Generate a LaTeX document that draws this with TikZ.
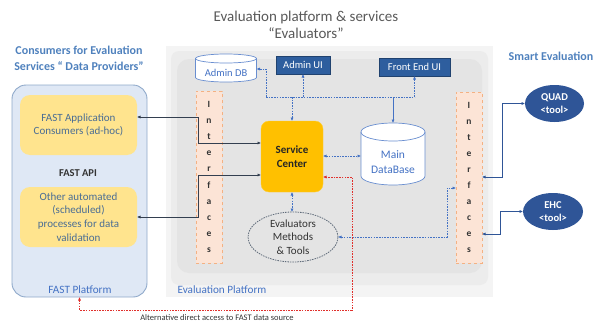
\documentclass[tikz,border=0pt]{standalone}
\usepackage{fontspec}
\setmainfont{Carlito}
\usetikzlibrary{arrows.meta,shapes.geometric,calc}
\definecolor{panelA}{HTML}{F4F4F4}
\definecolor{panelB}{HTML}{ECECEC}
\definecolor{panelC}{HTML}{E4E4E4}
\definecolor{fastfill}{HTML}{DFE8F5}
\definecolor{fastborder}{HTML}{8FA9CA}
\definecolor{yellowbox}{HTML}{FFE48E}
\definecolor{ytext}{HTML}{4A6D94}
\definecolor{orangebox}{HTML}{FFC000}
\definecolor{ifill}{HTML}{FCE4D6}
\definecolor{iborder}{HTML}{F4B183}
\definecolor{navy}{HTML}{2F5597}
\definecolor{uiblue}{HTML}{2E5E9E}
\definecolor{hdrblue}{HTML}{4F81BD}
\definecolor{dblue}{HTML}{4472C4}
\definecolor{redc}{HTML}{E0302C}
\definecolor{darkc}{HTML}{333F50}
\definecolor{titlegray}{HTML}{595959}
\definecolor{evborder}{HTML}{5F6B7A}
\newcommand\cylpath[4]{% name, rx, ry, style
  \path[#4] ($(#1.north west)+(0,#3)$) -- ($(#1.south west)+(0,-#3)$)
    arc[start angle=180,end angle=360,x radius=#2pt,y radius=#3pt]
    -- ($(#1.north east)+(0,#3)$)
    arc[start angle=0,end angle=180,x radius=#2pt,y radius=#3pt] -- cycle;
  \path[#4,fill=none] ($(#1.north west)+(0,#3)$)
    arc[start angle=180,end angle=360,x radius=#2pt,y radius=#3pt];
}
\begin{document}
\begin{tikzpicture}[x=1pt,y=-1pt,
  >={Latex[length=3.5pt,width=3.2pt]},
  plain/.style={inner sep=0pt,outer sep=0pt},
  ybox/.style={plain,fill=yellowbox,rounded corners=10pt,minimum width=117pt,minimum height=60pt,
    align=center,text=ytext,font=\fontsize{11}{13.6}\selectfont},
  ifc/.style={plain,fill=ifill,draw=iborder,dashed,line width=0.6pt,minimum width=26pt,
    align=center,font=\bfseries\fontsize{9.5}{16.1}\selectfont,text=black!80},
  uibox/.style={plain,fill=uiblue,draw=uiblue!70!black,line width=0.4pt,text=white,
    font=\fontsize{10.5}{12}\selectfont,minimum height=18pt},
  tool/.style={plain,ellipse,fill=navy,text=white,align=center,
    font=\bfseries\fontsize{10.5}{13.5}\selectfont},
  platlbl/.style={plain,text=dblue,font=\fontsize{11.2}{13}\selectfont},
  hdr/.style={plain,text=hdrblue,align=center,font=\bfseries\fontsize{12}{16}\selectfont},
  cyl/.style={fill=white,draw=dblue!80,line width=0.7pt},
  bdash/.style={draw=dblue,line width=0.8pt,dash pattern=on 1.6pt off 1.1pt},
  bsolid/.style={draw=dblue,line width=0.8pt},
  rdash/.style={draw=redc,line width=0.8pt,dash pattern=on 1.6pt off 1.1pt},
  dconn/.style={draw=darkc,line width=0.9pt},
  bconn/.style={draw=navy,line width=0.9pt}]
\useasboundingbox (0,0) rectangle (597,324);

% titles
\node[plain,align=center,text=titlegray,font=\fontsize{15}{17}\selectfont] (title) at (306,25)
  {Evaluation platform \& services\\“Evaluators”};
\node[hdr] (lhdr) at (79,58) {Consumers for Evaluation\\Services “ Data Providers”};
\node[hdr] (rhdr) at (551,56) {Smart Evaluation};

% evaluation platform panel
\node[plain,fill=panelA,minimum width=327pt,minimum height=251pt] (panel) at (329.5,171.5) {};
\node[plain,fill=panelB,rounded corners=8pt,minimum width=317pt,minimum height=234pt] (panelmid) at (329.5,168) {};
\node[plain,fill=panelC,rounded corners=12pt,minimum width=305pt,minimum height=214pt] (panelin) at (329.5,166) {};
\node[platlbl] (evallbl) at (222,290) {Evaluation Platform};

% FAST platform
\node[plain,fill=fastfill,draw=fastborder,line width=0.9pt,rounded corners=14pt,
  minimum width=135pt,minimum height=212pt] (fast) at (79.5,191) {};
\node[ybox] (box1) at (78.5,125) {FAST Application\\Consumers (ad-hoc)};
\node[ybox] (box2) at (78.5,217) {Other automated\\(scheduled)\\processes for data\\validation};
\node[plain,font=\bfseries\fontsize{10.5}{12}\selectfont,text=black!80] (api) at (78,173) {FAST API};
\node[platlbl] (fastlbl) at (80,290) {FAST Platform};

% admin db
\node[plain,minimum width=61pt,minimum height=28pt] (adb) at (226,68) {};
\cylpath{adb}{30.5}{4.5}{cyl}
\node[plain,text=dblue,font=\fontsize{10.5}{12}\selectfont] (adbtxt) at (226,73) {Admin DB};

% UIs
\node[uibox,minimum width=54pt] (aui) at (303,65) {Admin UI};
\node[uibox,minimum width=71pt] (feui) at (414.5,67) {Front End UI};

% interfaces
\node[ifc,minimum height=172pt] (lif) at (209,177) {I\\n\\t\\e\\r\\f\\a\\c\\e\\s};
\node[ifc,minimum height=171pt] (rif) at (469,177.5) {I\\n\\t\\e\\r\\f\\a\\c\\e\\s};

% service center
\node[plain,fill=orangebox,draw=orangebox!80!white,rounded corners=8pt,minimum width=62pt,
  minimum height=71pt,align=center,font=\bfseries\fontsize{11}{13.5}\selectfont,text=black!85]
  (sc) at (292,156.5) {Service\\Center};

% main database
\node[plain,minimum width=64pt,minimum height=62pt] (mdb) at (393,154) {};
\cylpath{mdb}{32}{9}{cyl}
\node[plain,align=center,text=dblue,font=\fontsize{11.5}{15}\selectfont] (mdbtxt) at (393,162) {Main\\DataBase};

% evaluators
\node[plain,ellipse,fill=panelC,draw=evborder,line width=0.8pt,dash pattern=on 1.5pt off 1pt,
  minimum width=90pt,minimum height=50pt,align=center,text=black!80,
  font=\fontsize{11}{13.5}\selectfont] (ev) at (293,237) {Evaluators\\Methods\\\& Tools};

% tools
\node[tool,minimum width=59pt,minimum height=37pt] (quad) at (554.5,103.5) {QUAD\\<tool>};
\node[tool,minimum width=60pt,minimum height=37pt] (ehc) at (553,211.5) {EHC\\<tool>};

% connectors: FAST boxes <-> service center
\draw[dconn,<->] (box1.east |- 0,117) -- (198,117) |- (sc.west |- 0,143);
\draw[dconn,<->] (box2.east |- 0,217) -- (198,217) |- (sc.west |- 0,175);

% top bus
\coordinate (bus) at (266,97);
\draw[bdash,->] (bus) |- (adb.east |- 0,69);
\draw[bdash] (bus) -- (feui.south |- bus);
\draw[bdash,->] (aui.south |- bus) -- (aui.south);
\draw[bdash,->] (feui.south |- bus) -- (feui.south);
\draw[bdash,->] (sc.north |- bus) -- (sc.north);
\draw[bsolid,->] (mdb.north |- bus) -- (mdb.north);

\draw[bdash,<->] (sc.east |- 0,156) -- (mdb.west |- 0,156);
\draw[bdash,<->] (sc.south) -- (sc.south |- ev.north);
\draw[bdash,<->] (ev.east) -- (447,237) |- (rif.west |- 0,188);

% red alternative path
\draw[rdash,<->] (fast.south) -- (fast.south |- 0,310) -| (352,177) -- (sc.east |- 0,177);
\node[plain,text=black!80,font=\fontsize{8.5}{10}\selectfont] (altlbl) at (217,318)
  {Alternative direct access to FAST data source};

% right interfaces <-> tools
\draw[bconn,<->] (rif.east |- 0,177) -| (502,103.5) -- (quad.west);
\draw[bconn,<->] (rif.east |- 0,234) -| (500,211.5) -- (ehc.west);
\end{tikzpicture}
\end{document}
